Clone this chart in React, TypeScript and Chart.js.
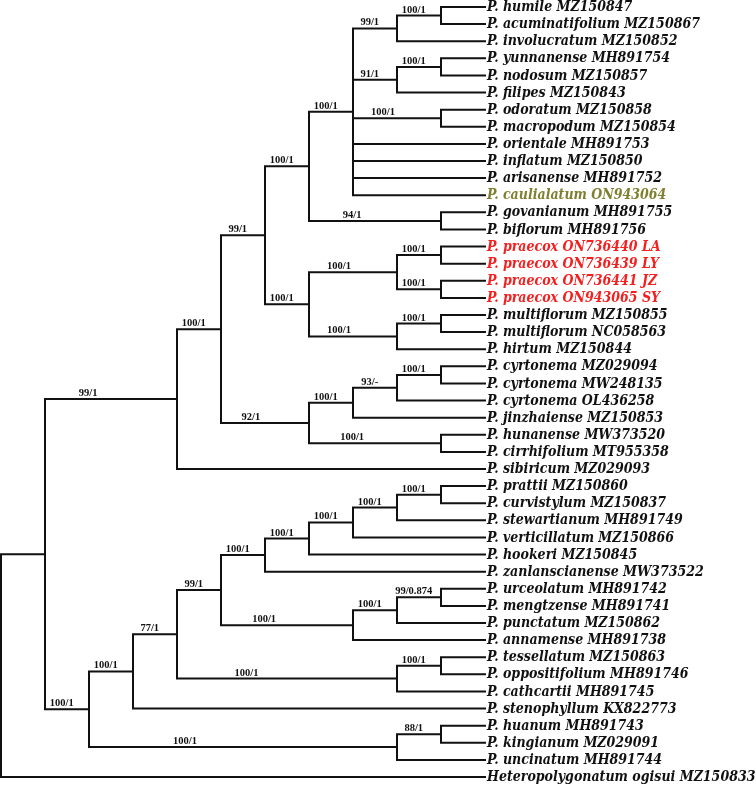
import React, { useEffect, useRef } from "react";
import { Chart, registerables } from "chart.js";
Chart.register(...registerables);

// ---- Leaves (top to bottom) ----
const leafNames = [
  "P. humile MZ150847",
  "P. acuminatifolium MZ150867",
  "P. involucratum MZ150852",
  "P. yunnanense MH891754",
  "P. nodosum MZ150857",
  "P. filipes MZ150843",
  "P. odoratum MZ150858",
  "P. macropodum MZ150854",
  "P. orientale MH891753",
  "P. inflatum MZ150850",
  "P. arisanense MH891752",
  "P. caulialatum ON943064",
  "P. govanianum MH891755",
  "P. biflorum MH891756",
  "P. praecox ON736440 LA",
  "P. praecox ON736439 LY",
  "P. praecox ON736441 JZ",
  "P. praecox ON943065 SY",
  "P. multiflorum MZ150855",
  "P. multiflorum NC058563",
  "P. hirtum MZ150844",
  "P. cyrtonema MZ029094",
  "P. cyrtonema MW248135",
  "P. cyrtonema OL436258",
  "P. jinzhaiense MZ150853",
  "P. hunanense MW373520",
  "P. cirrhifolium MT955358",
  "P. sibiricum MZ029093",
  "P. prattii MZ150860",
  "P. curvistylum MZ150837",
  "P. stewartianum MH891749",
  "P. verticillatum MZ150866",
  "P. hookeri MZ150845",
  "P. zanlanscianense MW373522",
  "P. urceolatum MH891742",
  "P. mengtzense MH891741",
  "P. punctatum MZ150862",
  "P. annamense MH891738",
  "P. tessellatum MZ150863",
  "P. oppositifolium MH891746",
  "P. cathcartii MH891745",
  "P. stenophyllum KX822773",
  "P. huanum MH891743",
  "P. kingianum MZ029091",
  "P. uncinatum MH891744",
  "Heteropolygonatum ogisui MZ150833",
];

const leafParents = [
  "K1", "K1", "K", "L1", "L1", "L", "M", "M", "I", "I", "I", "I", "J", "J",
  "P1", "P1", "P2", "P2", "Q1", "Q1", "Q", "V2", "V2", "V1", "V", "W", "W", "B",
  "C8", "C8", "C7", "C6", "C5", "C4", "U2", "U2", "U1", "U", "T1", "T1", "T",
  "C1", "N1", "N1", "N", "R",
];

// group: 0 = normal, 1 = new sample (praecox), 2 = caulialatum
const leafGroups = [
  0, 0, 0, 0, 0, 0, 0, 0, 0, 0, 0, 2, 0, 0, 1, 1, 1, 1, 0, 0, 0, 0, 0, 0, 0, 0, 0, 0,
  0, 0, 0, 0, 0, 0, 0, 0, 0, 0, 0, 0, 0, 0, 0, 0, 0, 0,
];

const leafDepth = 11;

// ---- Internal nodes ----
const nodeIds = [
  "R", "A", "B", "C", "D", "E", "F", "G", "H", "I", "J", "K", "K1", "L", "L1", "M",
  "P", "P1", "P2", "Q", "Q1", "V", "V1", "V2", "W",
  "C1", "C2", "C3", "C4", "C5", "C6", "C7", "C8", "U", "U1", "U2", "T", "T1", "N", "N1",
];
const nodeParents = [
  "", "R", "A", "A", "B", "D", "D", "E", "E", "G", "G", "I", "K", "I", "L", "I",
  "H", "P", "P", "H", "Q", "F", "V", "V1", "F",
  "C", "C1", "C2", "C3", "C4", "C5", "C6", "C7", "C3", "U", "U1", "C2", "T", "C", "N",
];
const nodeDepths = [
  0, 1, 4, 2, 5, 6, 7, 7, 7, 8, 10, 9, 10, 9, 10, 10,
  9, 10, 10, 9, 10, 8, 9, 10, 10,
  3, 4, 5, 6, 7, 8, 9, 10, 8, 9, 10, 9, 10, 9, 10,
];
const nodeSupport = [
  "", "", "99/1", "100/1", "100/1", "99/1", "92/1", "100/1", "100/1", "100/1", "94/1", "99/1", "100/1", "91/1", "100/1", "100/1",
  "100/1", "100/1", "100/1", "100/1", "100/1", "100/1", "93/-", "100/1", "100/1",
  "100/1", "77/1", "99/1", "100/1", "100/1", "100/1", "100/1", "100/1", "100/1", "100/1", "99/0.874", "100/1", "100/1", "100/1", "88/1",
];

const LEAF_COLORS = ["#111111", "#f41f1f", "#7f7f2f"];

type TreeNode = { id: string; depth: number; parent: string; support: string; y: number; children: TreeNode[]; leaf: number };

function buildTree() {
  const map: Record<string, TreeNode> = {};
  nodeIds.forEach((id, i) => {
    map[id] = { id, depth: nodeDepths[i], parent: nodeParents[i], support: nodeSupport[i], y: NaN, children: [], leaf: -1 };
  });
  const leaves: TreeNode[] = leafNames.map((name, i) => ({
    id: name, depth: leafDepth, parent: leafParents[i], support: "", y: i + 1, children: [], leaf: i,
  }));
  nodeIds.forEach((id) => {
    const n = map[id];
    if (n.parent) map[n.parent].children.push(n);
  });
  leaves.forEach((l) => map[l.parent].children.push(l));
  const setY = (n: TreeNode): number => {
    if (n.leaf >= 0) return n.y;
    const ys = n.children.map(setY);
    n.y = (Math.min(...ys) + Math.max(...ys)) / 2;
    return n.y;
  };
  setY(map["R"]);
  const all = [...nodeIds.map((id) => map[id]), ...leaves];
  return { map, all, leaves };
}

export default function App() {
  const ref = useRef<HTMLCanvasElement | null>(null);

  useEffect(() => {
    if (!ref.current) return;
    const { map, all, leaves } = buildTree();

    const datasets: any[] = [];
    all.forEach((n) => {
      if (!n.parent) return;
      const p = map[n.parent];
      datasets.push({
        data: [
          { x: p.depth, y: p.y },
          { x: p.depth, y: n.y },
          { x: n.depth, y: n.y },
        ],
        showLine: true,
        borderColor: "#111111",
        borderWidth: 2,
        pointRadius: 0,
        borderJoinStyle: "miter",
        borderCapStyle: "square",
        tension: 0,
      });
    });

    const X_MIN = -1 / 44;
    const X_MAX = X_MIN + 756 / 44;
    const rowPx = 770 / 45;
    const Y_MIN = 1 - 7 / rowPx;
    const Y_MAX = Y_MIN + 787 / rowPx;

    const labelPlugin = {
      id: "treeLabels",
      afterDatasetsDraw(chart: any) {
        const ctx = chart.ctx;
        const xs = chart.scales.x;
        const ys = chart.scales.y;
        ctx.save();
        // leaf names
        ctx.font = "italic bold 14px 'DejaVu Serif Condensed', 'DejaVu Serif'";
        try { (ctx as any).fontStretch = "condensed"; } catch (e) {}
        ctx.textBaseline = "middle";
        ctx.textAlign = "left";
        leaves.forEach((l) => {
          ctx.fillStyle = LEAF_COLORS[leafGroups[l.leaf]];
          ctx.fillText(leafNames[l.leaf], xs.getPixelForValue(l.depth) + 2, ys.getPixelForValue(l.y) + 0.5);
        });
        try { (ctx as any).fontStretch = "normal"; } catch (e) {}
        // support values
        ctx.font = "bold 10.5px 'Liberation Serif'";
        ctx.fillStyle = "#111111";
        ctx.textAlign = "center";
        ctx.textBaseline = "alphabetic";
        all.forEach((n) => {
          if (!n.support || !n.parent) return;
          const p = map[n.parent];
          const len = n.depth - p.depth;
          const at = p.depth + 0.3 * len + 0.08;
          ctx.fillText(n.support, xs.getPixelForValue(at), ys.getPixelForValue(n.y) - 3);
        });
        ctx.restore();
      },
    };

    const chart = new Chart(ref.current, {
      type: "scatter",
      data: { datasets },
      options: {
        responsive: false,
        animation: false,
        layout: { padding: 0 },
        plugins: { legend: { display: false }, tooltip: { enabled: false } },
        scales: {
          x: { type: "linear", min: X_MIN, max: X_MAX, display: false },
          y: { type: "linear", min: Y_MIN, max: Y_MAX, reverse: true, display: false },
        },
      },
      plugins: [labelPlugin],
    });
    return () => chart.destroy();
  }, []);

  return (
    <div style={{ position: "absolute", left: 0, top: 0, width: 756, height: 787, background: "#ffffff" }}>
      <canvas ref={ref} width={756} height={787} style={{ display: "block" }} />
    </div>
  );
}
